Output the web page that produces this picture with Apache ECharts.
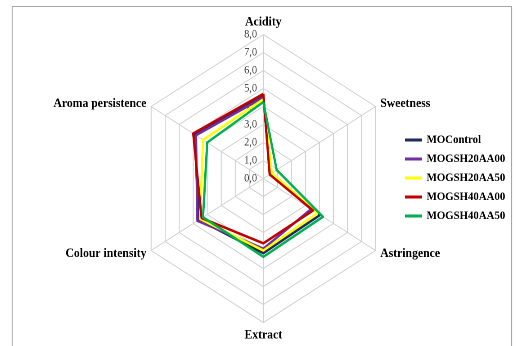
<!DOCTYPE html>
<html>
<head>
<meta charset="utf-8">
<script src="https://cdn.jsdelivr.net/npm/echarts@6/dist/echarts.min.js"></script>
<style>
html,body{margin:0;padding:0;background:#fff;overflow:hidden;}
#wrap{width:516px;height:346px;overflow:hidden;position:relative;}
/* The reference picture is horizontally condensed; draw wider and condense */
#chart{width:573px;height:346px;transform:scaleX(0.9);transform-origin:0 0;}
</style>
</head>
<body>
<div id="wrap"><div id="chart"></div></div>
<script>
// Axes in clockwise order as drawn in the reference (starting at top)
const categories = ['Acidity', 'Sweetness', 'Astringence', 'Extract', 'Colour intensity', 'Aroma persistence'];
const seriesNames = ['MOControl', 'MOGSH20AA00', 'MOGSH20AA50', 'MOGSH40AA00', 'MOGSH40AA50'];
const MOControl   = [4.55, 0.5, 4.05, 4.15, 4.6, 4.9];
const MOGSH20AA00 = [4.5, 0.5, 3.4, 3.9, 4.7, 4.8];
const MOGSH20AA50 = [4.4, 0.6, 3.85, 4.0, 4.5, 4.3];
const MOGSH40AA00 = [4.7, 0.45, 3.55, 3.6, 4.4, 5.0];
const MOGSH40AA50 = [4.25, 0.95, 4.25, 4.35, 4.3, 4.0];
const tickLabels = ['0,0', '1,0', '2,0', '3,0', '4,0', '5,0', '6,0', '7,0', '8,0'];
const colors = ['#1f2a5a', '#7030a0', '#ffff00', '#c00000', '#00b050'];

const allValues = [MOControl, MOGSH20AA00, MOGSH20AA50, MOGSH40AA00, MOGSH40AA50];
// ECharts radar places indicators counter-clockwise: reorder for a clockwise look
const order = [0, 5, 4, 3, 2, 1];

const serif = '"Liberation Serif", "Times New Roman", serif';
const indicator = order.map(function (i, k) {
  const ind = { name: categories[i], min: 0, max: 8 };
  if (k === 0) {
    ind.axisLabel = {
      show: true, showMinLabel: true, showMaxLabel: true, hideOverlap: false,
      fontFamily: serif, fontSize: 11.5, color: '#404040', margin: 7,
      formatter: function (v) { return tickLabels[Math.round(v)]; }
    };
  }
  return ind;
});

const chart = echarts.init(document.getElementById('chart'), null, { renderer: 'canvas', devicePixelRatio: 2 });
chart.setOption({
  backgroundColor: '#fff',
  animation: false,
  graphic: [{
    type: 'rect', silent: true, z: -10,
    shape: { x: 13.5, y: 6.5, width: 555, height: 360 },
    style: { fill: 'none', stroke: '#a6a6a6', lineWidth: 1.1 }
  }],
  legend: {
    orient: 'vertical',
    left: 445, top: 129,
    itemWidth: 19, itemHeight: 3, itemGap: 7,
    icon: 'rect',
    textStyle: { fontFamily: serif, fontWeight: 'bold', fontSize: 12, color: '#000' },
    data: seriesNames
  },
  radar: {
    center: [292.6, 178.5],
    radius: 144,
    shape: 'polygon',
    splitNumber: 8,
    indicator: indicator,
    axisName: { fontFamily: serif, fontWeight: 'bold', fontSize: 13, color: '#000' },
    nameGap: 6,
    axisLine: { lineStyle: { color: '#d0d0d0', width: 1 } },
    splitLine: { lineStyle: { color: '#d0d0d0', width: 1 } },
    splitArea: { show: false },
    axisTick: { show: false },
    axisLabel: { show: false }
  },
  series: [{
    type: 'radar',
    symbol: 'none',
    z: 2,
    data: allValues.map(function (vals, s) {
      return {
        name: seriesNames[s],
        value: order.map(function (i) { return vals[i]; }),
        lineStyle: { color: colors[s], width: 2.5 },
        itemStyle: { color: colors[s] }
      };
    })
  }]
});
</script>
</body>
</html>
